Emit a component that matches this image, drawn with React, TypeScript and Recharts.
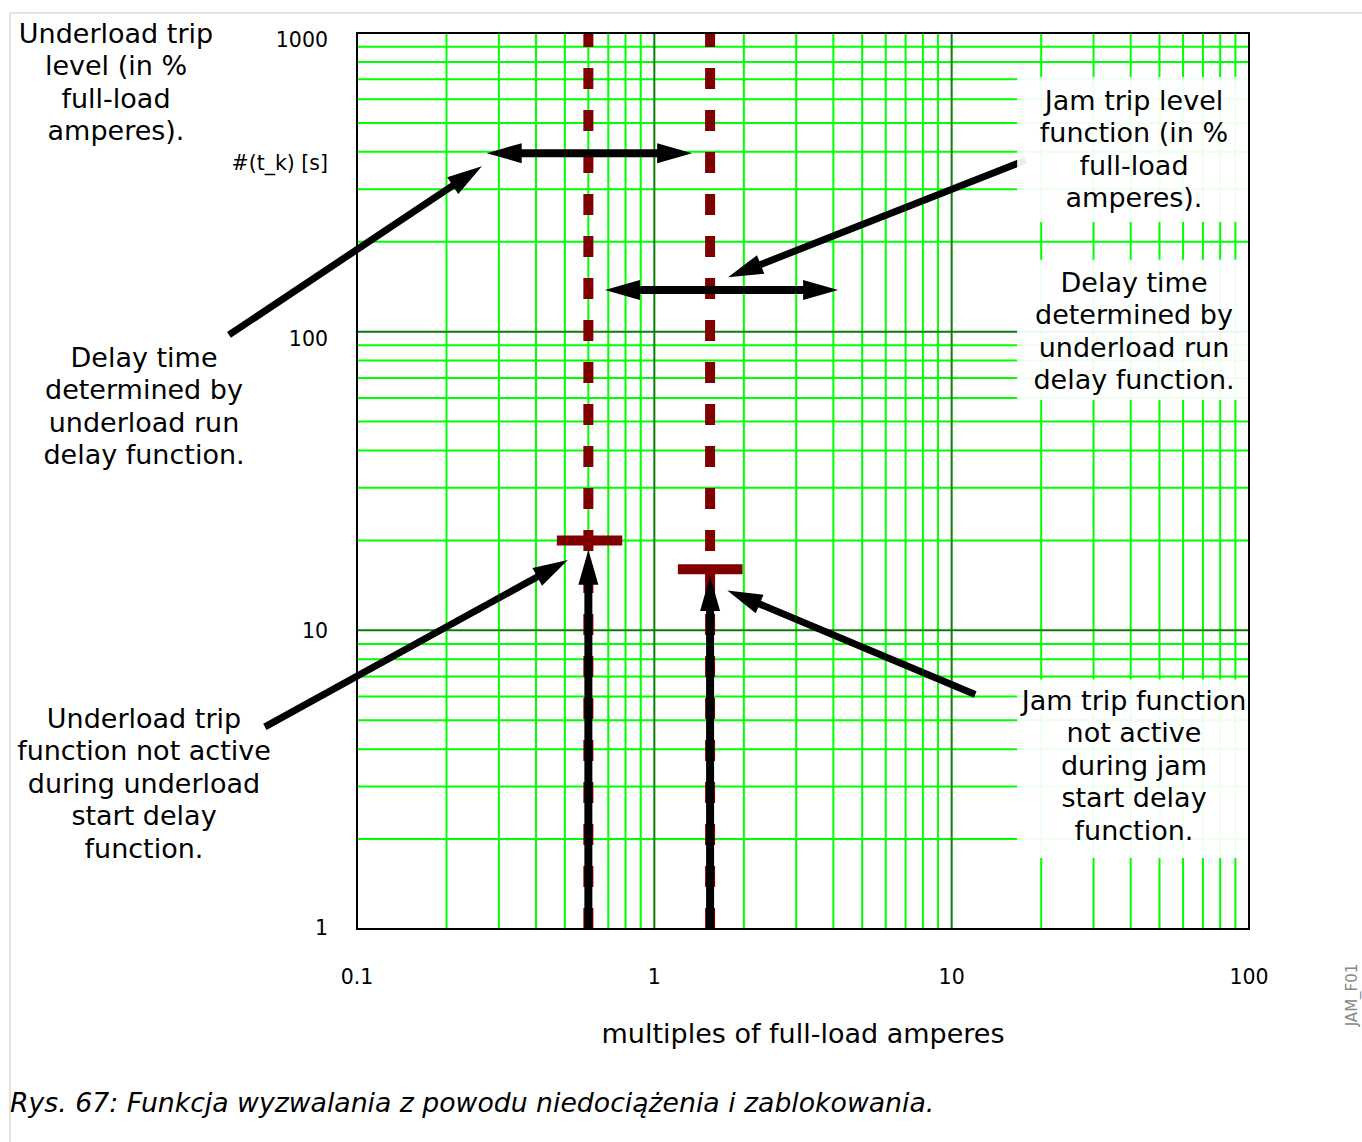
import React from 'react'
import { ComposedChart, Line, XAxis, YAxis, ReferenceLine, ReferenceArea } from 'recharts'

// axis ticks and grid
const xTicks = [0.1, 1, 10, 100]
const yTicks = [1, 10, 100, 1000]
const xMajor = [1, 10]
const yMajor = [10, 100]
const xMinor = [0.2, 0.3, 0.4, 0.5, 0.6, 0.7, 0.8, 0.9, 2, 3, 4, 5, 6, 7, 8, 9, 20, 30, 40, 50, 60, 70, 80, 90]
const yMinor = [2, 3, 4, 5, 6, 7, 8, 9, 20, 30, 40, 50, 60, 70, 80, 90, 200, 300, 400, 500, 600, 700, 800, 900]

// trip levels (multiples of FLA) and delay times (s)
const underloadLevel = [{ x: 0.6, y: 1 }, { x: 0.6, y: 1000 }]
const jamLevel = [{ x: 1.54, y: 1 }, { x: 1.54, y: 1000 }]
const underloadDelay = [{ x: 0.47, y: 20 }, { x: 0.78, y: 20 }]
const jamDelay = [{ x: 1.2, y: 16 }, { x: 1.98, y: 16 }]

// annotation arrows, [from, to]
const doubleArrows = [
  [{ x: 0.273, y: 396 }, { x: 1.34, y: 396 }],
  [{ x: 0.682, y: 138 }, { x: 4.15, y: 138 }],
]
const pointerArrows = [
  [{ x: 0.0371, y: 97.5 }, { x: 0.263, y: 358 }],
  [{ x: 17.7, y: 375 }, { x: 1.77, y: 152 }],
  [{ x: 0.049, y: 4.75 }, { x: 0.512, y: 17.2 }],
  [{ x: 12, y: 6.1 }, { x: 1.76, y: 13.6 }],
]
const upArrows = [
  [{ x: 0.6, y: 1 }, { x: 0.6, y: 18.6 }],
  [{ x: 1.54, y: 1 }, { x: 1.54, y: 15.2 }],
]

// white note boxes inside the plot [x1, x2, y1, y2]
const noteBoxes = [
  [16.6, 100, 233, 712],
  [16.6, 100, 59, 174],
  [16.6, 100, 1.73, 6.85],
]

const font = '"DejaVu Sans", Verdana, sans-serif'

const arrowShape = (both: boolean, w: number) => (p: any) => {
  const { x1, y1, x2, y2 } = p
  const dx = x2 - x1, dy = y2 - y1
  const len = Math.hypot(dx, dy) || 1
  const ux = dx / len, uy = dy / len
  const L = 35, H = 10
  const head = (tx: number, ty: number, sx: number, sy: number) => {
    const bx = tx - sx * L, by = ty - sy * L
    return `${tx},${ty} ${bx - sy * H},${by + sx * H} ${bx + sy * H},${by - sx * H}`
  }
  const sx = both ? x1 + ux * (L - 4) : x1
  const sy = both ? y1 + uy * (L - 4) : y1
  return (
    <g>
      <line x1={sx} y1={sy} x2={x2 - ux * (L - 4)} y2={y2 - uy * (L - 4)} stroke="#000" strokeWidth={w} />
      <polygon points={head(x2, y2, ux, uy)} fill="#000" />
      {both && <polygon points={head(x1, y1, -ux, -uy)} fill="#000" />}
    </g>
  )
}

const XTick = ({ x, y, payload }: any) => (
  <text x={x} y={y + 48} textAnchor="middle" dominantBaseline="central" fontSize={20.5} fontFamily={font} fill="#000">
    {payload.value}
  </text>
)

const YTick = ({ x, y, payload }: any) => {
  const off = payload.value >= 100 ? 7 : payload.value === 10 ? 1 : -1
  return (
    <text x={x - 29} y={y + off} textAnchor="end" dominantBaseline="central" fontSize={20.5} fontFamily={font} fill="#000">
      {payload.value}
    </text>
  )
}

function Note({ lines, cx, top }: { lines: string[]; cx: number; top: number }) {
  const lh = 32.5
  return (
    <div style={{
      position: 'absolute', left: cx - 200, width: 400, top: top - lh / 2, textAlign: 'center',
      fontFamily: font, fontSize: 27, lineHeight: `${lh}px`, color: '#000', whiteSpace: 'nowrap'
    }}>
      {lines.map((t, i) => <div key={i}>{t}</div>)}
    </div>
  )
}

export default function App() {
  return (
    <div style={{ position: 'absolute', left: 0, top: 0, width: 1362, height: 1142, background: '#fff', overflow: 'hidden' }}>
      <div style={{ position: 'absolute', left: 9, top: 12, width: 1400, height: 1200, borderLeft: '2px solid #e4e4e4', borderTop: '2px solid #e4e4e4' }} />
      <ComposedChart width={1362} height={1142} margin={{ top: 33, right: 113, bottom: 83, left: 277 }} style={{ position: 'absolute', left: 0, top: 0 }}>
        <XAxis
          dataKey="x" type="number" scale="log" domain={[0.1, 100]} allowDataOverflow ticks={xTicks} interval={0}
          axisLine={false} tickLine={false} tickSize={0} tickMargin={0} height={130} tick={<XTick />}
          label={{ value: 'multiples of full-load amperes', position: 'insideBottom', offset: 16, fontSize: 27, fontFamily: font, fill: '#000' }}
        />
        <YAxis
          dataKey="y" type="number" scale="log" domain={[1, 1000]} allowDataOverflow ticks={yTicks} interval={0}
          axisLine={false} tickLine={false} tickSize={0} tickMargin={0} width={80} tick={<YTick />}
        />

        {xMinor.map(v => <ReferenceLine key={'xm' + v} x={v} stroke="#00ff00" strokeWidth={2} zIndex={-50} />)}
        {yMinor.map(v => <ReferenceLine key={'ym' + v} y={v} stroke="#00ff00" strokeWidth={2} zIndex={-50} />)}
        {xMajor.map(v => <ReferenceLine key={'xM' + v} x={v} stroke="#0b7d0b" strokeWidth={2} zIndex={-40} />)}
        {yMajor.map(v => <ReferenceLine key={'yM' + v} y={v} stroke="#0b7d0b" strokeWidth={2} zIndex={-40} />)}

        <Line data={underloadLevel} dataKey="y" stroke="#800000" strokeWidth={10} strokeDasharray="21 21" dot={false} isAnimationActive={false} zIndex={400} />
        <Line data={jamLevel} dataKey="y" stroke="#800000" strokeWidth={10} strokeDasharray="21 21" dot={false} isAnimationActive={false} zIndex={400} />
        <Line data={underloadDelay} dataKey="y" stroke="#800000" strokeWidth={10} dot={false} isAnimationActive={false} zIndex={400} />
        <Line data={jamDelay} dataKey="y" stroke="#800000" strokeWidth={10} dot={false} isAnimationActive={false} zIndex={400} />

        {upArrows.map((s, i) => (
          <ReferenceLine key={'ua' + i} segment={s} ifOverflow="visible" shape={arrowShape(false, 8)} zIndex={600} />
        ))}
        {doubleArrows.map((s, i) => (
          <ReferenceLine key={'da' + i} segment={s} ifOverflow="visible" shape={arrowShape(true, 8)} zIndex={600} />
        ))}
        {pointerArrows.map((s, i) => (
          <ReferenceLine key={'pa' + i} segment={s} ifOverflow="visible" shape={arrowShape(false, 7)} zIndex={600} />
        ))}

        {noteBoxes.map((b, i) => (
          <ReferenceArea key={'nb' + i} x1={b[0]} x2={b[1]} y1={b[2]} y2={b[3]} fill="#fff" fillOpacity={0.93} stroke="none" ifOverflow="visible" zIndex={700} />
        ))}
        <ReferenceArea x1={0.1} x2={100} y1={1} y2={1000} fill="none" stroke="#000" strokeWidth={2} ifOverflow="visible" zIndex={800} />
      </ComposedChart>

      <div style={{ position: 'absolute', left: 0, width: 328, top: 151, textAlign: 'right', fontFamily: font, fontSize: 20.5, lineHeight: '24px' }}>
        #(t_k) [s]
      </div>

      <Note cx={116} top={34} lines={['Underload trip', 'level (in %', 'full-load', 'amperes).']} />
      <Note cx={144} top={358} lines={['Delay time', 'determined by', 'underload run', 'delay function.']} />
      <Note cx={144} top={719} lines={['Underload trip', 'function not active', 'during underload', 'start delay', 'function.']} />
      <Note cx={1134} top={101} lines={['Jam trip level', 'function (in %', 'full-load', 'amperes).']} />
      <Note cx={1134} top={283} lines={['Delay time', 'determined by', 'underload run', 'delay function.']} />
      <Note cx={1134} top={701} lines={['Jam trip function', 'not active', 'during jam', 'start delay', 'function.']} />

      <div style={{
        position: 'absolute', left: 1352, top: 995, transform: 'translate(-50%, -50%) rotate(-90deg)',
        fontFamily: font, fontSize: 15, color: '#888', whiteSpace: 'nowrap'
      }}>
        JAM_F01
      </div>

      <div style={{ position: 'absolute', left: 10, top: 1087, fontFamily: font, fontStyle: 'italic', fontSize: 26.7, lineHeight: '32px', whiteSpace: 'nowrap' }}>
        Rys. 67: Funkcja wyzwalania z powodu niedociążenia i zablokowania.
      </div>
    </div>
  )
}
